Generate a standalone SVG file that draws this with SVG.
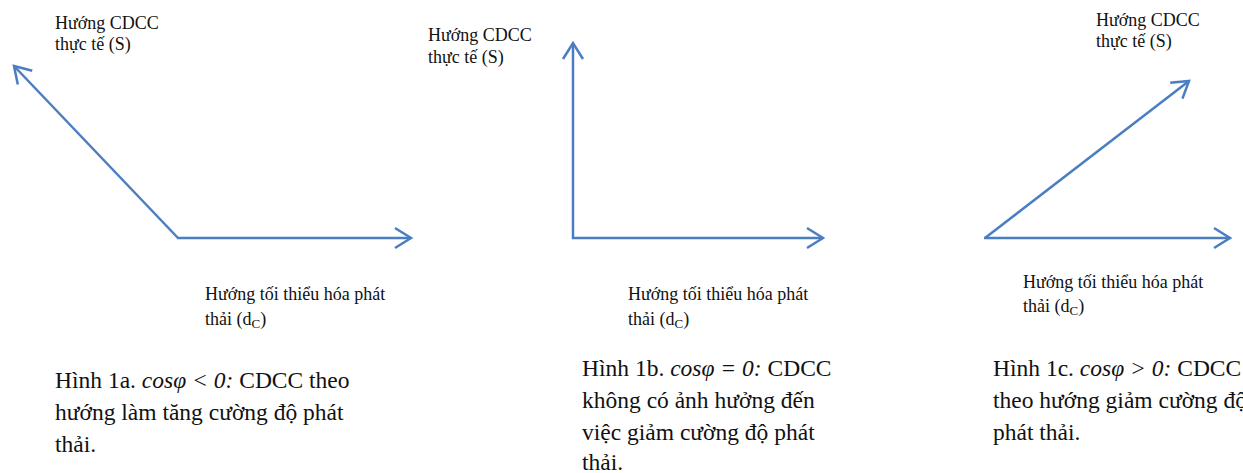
<svg xmlns="http://www.w3.org/2000/svg" width="1243" height="473" viewBox="0 0 1243 473">
<style>
.ln{fill:none;stroke:#4A7EC1;stroke-width:2.5;marker-end:url(#arr)}
.lb{font-family:"Liberation Serif","Times New Roman",serif;font-size:18px;fill:#111}
.cap{font-family:"Liberation Serif","Times New Roman",serif;font-size:23.5px;fill:#111}
.it{font-style:italic}
.sub{font-size:13px}
</style>
<defs>
<marker id="arr" markerUnits="userSpaceOnUse" viewBox="-20 -12 24 24" refX="0" refY="0" markerWidth="24" markerHeight="24" orient="auto" overflow="visible">
<path d="M-16,-10 L0,0 L-16,10" fill="none" stroke="#4A7EC1" stroke-width="2.5" stroke-linejoin="miter"/>
</marker>
</defs>
<rect width="1243" height="473" fill="#fff"/>
<g id="connectors">
<line class="ln" x1="178" y1="238" x2="14" y2="66"/>
<line class="ln" x1="177" y1="238" x2="411" y2="238"/>
<line class="ln" x1="573" y1="239" x2="573" y2="43"/>
<line class="ln" x1="572" y1="238" x2="823" y2="238"/>
<line class="ln" x1="985" y1="238" x2="1189" y2="81"/>
<line class="ln" x1="984" y1="238" x2="1230" y2="238"/>
</g>
<g id="fig1a">
<text class="lb" x="55" y="29">Hướng CDCC</text>
<text class="lb" x="55" y="50">thực tế (S)</text>
<text class="lb" x="205" y="300">Hướng tối thiểu hóa phát</text>
<text class="lb" x="205" y="325">thải (d<tspan class="sub" dy="3">C</tspan><tspan dy="-3">)</tspan></text>
<text class="cap" x="55" y="388">Hình 1a. <tspan class="it">cosφ &lt; 0:</tspan> CDCC theo</text>
<text class="cap" x="55" y="420">hướng làm tăng cường độ phát</text>
<text class="cap" x="55" y="452">thải.</text>
</g>
<g id="fig1b">
<text class="lb" x="428" y="41">Hướng CDCC</text>
<text class="lb" x="428" y="63">thực tế (S)</text>
<text class="lb" x="628" y="300">Hướng tối thiểu hóa phát</text>
<text class="lb" x="628" y="325">thải (d<tspan class="sub" dy="3">C</tspan><tspan dy="-3">)</tspan></text>
<text class="cap" x="582" y="376">Hình 1b. <tspan class="it">cosφ = 0:</tspan> CDCC</text>
<text class="cap" x="582" y="408">không có ảnh hưởng đến</text>
<text class="cap" x="582" y="440">việc giảm cường độ phát</text>
<text class="cap" x="582" y="470">thải.</text>
</g>
<g id="fig1c">
<text class="lb" x="1096" y="26">Hướng CDCC</text>
<text class="lb" x="1096" y="47">thực tế (S)</text>
<text class="lb" x="1023" y="288">Hướng tối thiểu hóa phát</text>
<text class="lb" x="1023" y="312">thải (d<tspan class="sub" dy="3">C</tspan><tspan dy="-3">)</tspan></text>
<text class="cap" x="993" y="376">Hình 1c. <tspan class="it">cosφ &gt; 0:</tspan> CDCC</text>
<text class="cap" x="993" y="408">theo hướng giảm cường độ</text>
<text class="cap" x="993" y="440">phát thải.</text>
</g>
</svg>
